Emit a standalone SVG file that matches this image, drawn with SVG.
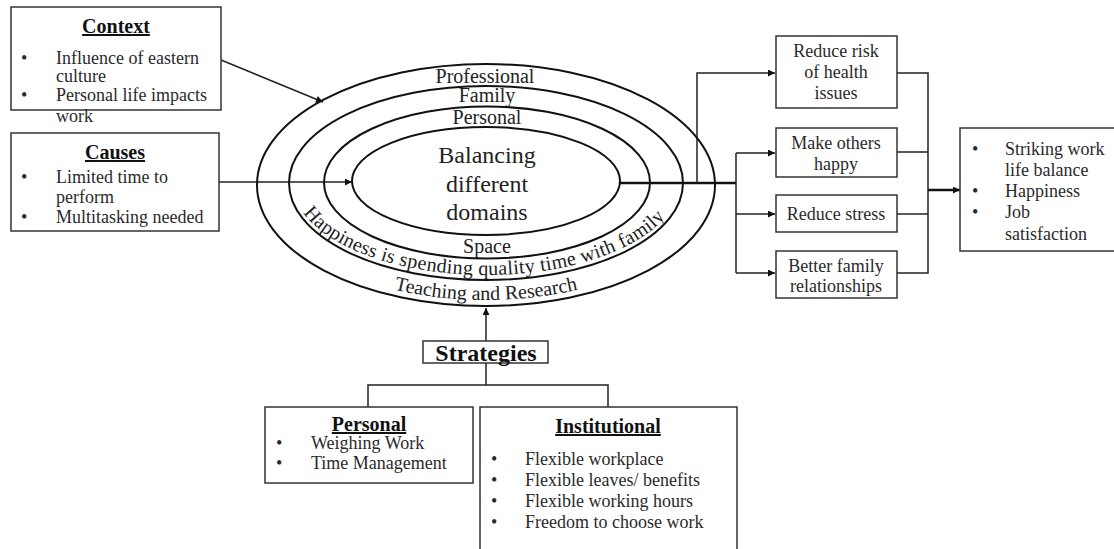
<svg xmlns="http://www.w3.org/2000/svg" xmlns:xlink="http://www.w3.org/1999/xlink" width="1114" height="549" viewBox="0 0 1114 549">
  <defs>
    <marker id="arrow" viewBox="0 0 10 10" refX="10" refY="5" markerWidth="9" markerHeight="7" markerUnits="userSpaceOnUse" orient="auto">
      <path d="M0,0 L10,5 L0,10 z" fill="#111"/>
    </marker>
    <!-- baselines for the curved ring labels -->
    <path id="arcHappiness" d="M293,183 A193,92 0 0 0 679,183"/>
    <path id="arcTeaching" d="M264,183 A222,117 0 0 0 708,183"/>
  </defs>
  <style>
    .box { fill: #fff; stroke: #333; stroke-width: 1.5; }
    .ring { fill: none; stroke: #111; stroke-width: 2; }
    .conn { fill: none; stroke: #222; stroke-width: 1.5; }
    .thick { fill: none; stroke: #111; stroke-width: 2.5; }
    text { font-family: "Liberation Serif", "Times New Roman", serif; fill: #2a2a2a; }
    .body { font-size: 18px; }
    .head { font-size: 20px; font-weight: bold; fill: #111; text-decoration: underline; }
    .ringlbl { font-size: 20px; fill: #222; }
    .center { font-size: 24px; fill: #222; }
    .mid { text-anchor: middle; }
  </style>

  <rect width="1114" height="549" fill="#fff"/>

  <!-- Connectors -->
  <g id="connectors">
    <line class="conn" x1="221" y1="60" x2="323" y2="102" marker-end="url(#arrow)"/>
    <line class="conn" x1="219" y1="182" x2="352" y2="182" marker-end="url(#arrow)"/>
    <line class="thick" x1="620" y1="183" x2="736" y2="183"/>
    <polyline class="conn" points="697,183 697,73 775,73" marker-end="url(#arrow)"/>
    <line class="conn" x1="736" y1="153" x2="736" y2="273"/>
    <line class="conn" x1="736" y1="153" x2="775" y2="153" marker-end="url(#arrow)"/>
    <line class="conn" x1="736" y1="214" x2="775" y2="214" marker-end="url(#arrow)"/>
    <line class="conn" x1="736" y1="273" x2="775" y2="273" marker-end="url(#arrow)"/>
    <polyline class="conn" points="897,73 928,73 928,273 897,273"/>
    <line class="conn" x1="897" y1="152" x2="928" y2="152"/>
    <line class="conn" x1="897" y1="214" x2="928" y2="214"/>
    <line class="thick" x1="928" y1="190" x2="960" y2="190" marker-end="url(#arrow)"/>
    <line class="conn" x1="486" y1="341" x2="486" y2="308" marker-end="url(#arrow)"/>
    <polyline class="conn" points="486,363 486,385"/>
    <polyline class="conn" points="368,407 368,385 608,385 608,407"/>
  </g>

  <!-- Context -->
  <g id="context">
    <rect class="box" x="11" y="7" width="210" height="103"/>
    <text class="head mid" x="116" y="33">Context</text>
    <text class="body" x="21" y="64">•</text>
    <text class="body" x="56" y="64">Influence of eastern</text>
    <text class="body" x="56" y="82">culture</text>
    <text class="body" x="21" y="101">•</text>
    <text class="body" x="56" y="101">Personal life impacts</text>
    <text class="body" x="56" y="122">work</text>
  </g>

  <!-- Causes -->
  <g id="causes">
    <rect class="box" x="11" y="133" width="208" height="98"/>
    <text class="head mid" x="115" y="159">Causes</text>
    <text class="body" x="21" y="183">•</text>
    <text class="body" x="56" y="183">Limited time to</text>
    <text class="body" x="56" y="203">perform</text>
    <text class="body" x="21" y="223">•</text>
    <text class="body" x="56" y="223">Multitasking needed</text>
  </g>

  <!-- Concentric domains -->
  <g id="domains">
    <ellipse class="ring" cx="486" cy="185" rx="229" ry="121"/>
    <ellipse class="ring" cx="486" cy="183" rx="197" ry="97"/>
    <ellipse class="ring" cx="487" cy="182.5" rx="163" ry="76"/>
    <ellipse class="ring" cx="486" cy="181" rx="134" ry="54"/>
    <text class="ringlbl mid" x="485" y="83">Professional</text>
    <text class="ringlbl mid" x="487" y="102">Family</text>
    <text class="ringlbl mid" x="487" y="124">Personal</text>
    <text class="center mid" x="487" y="163">Balancing</text>
    <text class="center mid" x="487" y="192">different</text>
    <text class="center mid" x="487" y="220">domains</text>
    <text class="ringlbl mid" x="487" y="253">Space</text>
    <text class="ringlbl"><textPath xlink:href="#arcHappiness" href="#arcHappiness" startOffset="49.4%" text-anchor="middle" textLength="392" lengthAdjust="spacing">Happiness is spending quality time with family</textPath></text>
    <text class="ringlbl"><textPath xlink:href="#arcTeaching" href="#arcTeaching" startOffset="50%" text-anchor="middle">Teaching and Research</textPath></text>
  </g>

  <!-- Outcomes -->
  <g id="reduce-risk">
    <rect class="box" x="776" y="36" width="121" height="72"/>
    <text class="body mid" x="836" y="57">Reduce risk</text>
    <text class="body mid" x="836" y="78">of health</text>
    <text class="body mid" x="836" y="99">issues</text>
  </g>
  <g id="make-others-happy">
    <rect class="box" x="776" y="128" width="121" height="49"/>
    <text class="body mid" x="836" y="149">Make others</text>
    <text class="body mid" x="836" y="170">happy</text>
  </g>
  <g id="reduce-stress">
    <rect class="box" x="776" y="195" width="121" height="37"/>
    <text class="body mid" x="836" y="220">Reduce stress</text>
  </g>
  <g id="better-family">
    <rect class="box" x="776" y="251" width="121" height="47"/>
    <text class="body mid" x="836" y="272">Better family</text>
    <text class="body mid" x="836" y="292">relationships</text>
  </g>

  <!-- Result -->
  <g id="result">
    <rect class="box" x="960" y="128" width="170" height="123"/>
    <text class="body" x="972" y="155">•</text>
    <text class="body" x="1005" y="155">Striking work</text>
    <text class="body" x="1005" y="176">life balance</text>
    <text class="body" x="972" y="197">•</text>
    <text class="body" x="1005" y="197">Happiness</text>
    <text class="body" x="972" y="218">•</text>
    <text class="body" x="1005" y="218">Job</text>
    <text class="body" x="1005" y="240">satisfaction</text>
  </g>

  <!-- Strategies -->
  <g id="strategies">
    <rect class="box" x="423" y="341" width="125" height="22"/>
    <text class="mid" x="486" y="361" style="font-size:24px;font-weight:bold;fill:#111">Strategies</text>
  </g>
  <g id="personal">
    <rect class="box" x="265" y="407" width="208" height="76"/>
    <text class="head mid" x="369" y="431">Personal</text>
    <text class="body" x="276" y="449">•</text>
    <text class="body" x="311" y="449">Weighing Work</text>
    <text class="body" x="276" y="469">•</text>
    <text class="body" x="311" y="469">Time Management</text>
  </g>
  <g id="institutional">
    <rect class="box" x="480" y="407" width="257" height="160"/>
    <text class="head mid" x="608" y="433">Institutional</text>
    <text class="body" x="491" y="465">•</text>
    <text class="body" x="525" y="465">Flexible workplace</text>
    <text class="body" x="491" y="486">•</text>
    <text class="body" x="525" y="486">Flexible leaves/ benefits</text>
    <text class="body" x="491" y="507">•</text>
    <text class="body" x="525" y="507">Flexible working hours</text>
    <text class="body" x="491" y="528">•</text>
    <text class="body" x="525" y="528">Freedom to choose work</text>
  </g>
</svg>
